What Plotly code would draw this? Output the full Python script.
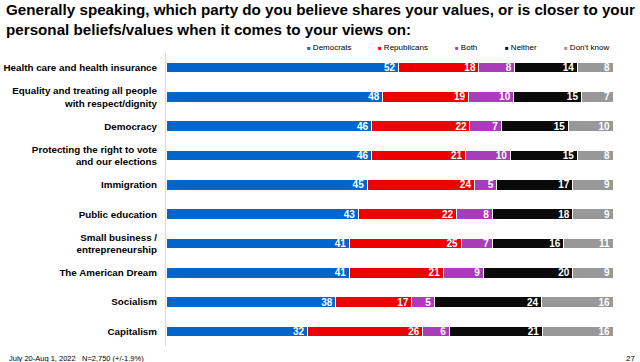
import plotly.graph_objects as go

categories = [
    "Health care and health insurance",
    "Equality and treating all people<br>with respect/dignity",
    "Democracy",
    "Protecting the right to vote<br>and our elections",
    "Immigration",
    "Public education",
    "Small business /<br>entrepreneurship",
    "The American Dream",
    "Socialism",
    "Capitalism",
]
democrats = [52, 48, 46, 46, 45, 43, 41, 41, 38, 32]
republicans = [18, 19, 22, 21, 24, 22, 25, 21, 17, 26]
both = [8, 10, 7, 10, 5, 8, 7, 9, 5, 6]
neither = [14, 15, 15, 15, 17, 18, 16, 20, 24, 21]
dont_know = [8, 7, 10, 8, 9, 9, 11, 9, 16, 16]

series_names = ["Democrats", "Republicans", "Both", "Neither", "Don't know"]
series_values = [democrats, republicans, both, neither, dont_know]
series_colors = ["#0066CC", "#EE0000", "#A93CB9", "#0A0A0A", "#989898"]
# left edge (px) of each legend entry's text
legend_text_x = [312, 383, 460, 510, 569]

FONT = "Liberation Sans, Arial, sans-serif"
L, R, T, B = 166, 27, 53, 16
PW = 640 - L - R
PH = 362 - T - B

fig = go.Figure()
legend_layouts = {}
for i, (name, vals, color) in enumerate(zip(series_names, series_values, series_colors)):
    fig.add_trace(go.Bar(
        y=categories, x=vals, name=name, orientation="h",
        marker=dict(color=color, line=dict(color="white", width=1)),
        text=[str(v) for v in vals], texttemplate="%{text}", textposition="inside",
        insidetextanchor="end", constraintext="none", textangle=0,
        textfont=dict(color="white", size=10, family=FONT, weight="bold"),
        showlegend=False, hoverinfo="y+name+text",
    ))
    lname = "legend" if i == 0 else f"legend{i + 1}"
    fig.add_trace(go.Scatter(
        x=[None], y=[None], mode="markers",
        name=f"<span style='font-size:6px;color:{color}'>■</span> {name}",
        marker=dict(symbol="square", size=1, color="rgba(0,0,0,0)"),
        showlegend=True, legend=lname,
    ))
    legend_layouts[lname] = dict(
        orientation="h", x=(legend_text_x[i] - 5 - 40 - L) / PW, xanchor="left",
        y=1 + (T - 47) / PH, yanchor="middle",
        font=dict(size=8, family=FONT, color="#000000"), itemwidth=30,
        bgcolor="rgba(0,0,0,0)", borderwidth=0,
    )

fig.update_layout(
    width=640, height=362,
    margin=dict(l=L, r=R, t=T, b=B, autoexpand=False),
    barmode="stack", barnorm="percent", bargap=0.64,
    paper_bgcolor="white", plot_bgcolor="white",
    font=dict(family=FONT, color="#000000"),
    title=dict(
        text="Generally speaking, which party do you believe shares your values, or is closer to your<br>personal beliefs/values when it comes to your views on:",
        x=6 / 640, xanchor="left", xref="container",
        y=1 - 15 / 362, yanchor="top", yref="container",
        font=dict(size=15.2, family=FONT, color="#000000", weight="bold"),
    ),
    xaxis=dict(range=[0, 100], visible=False, fixedrange=True),
    yaxis=dict(
        autorange="reversed", showgrid=False, zeroline=False,
        showline=True, linecolor="#D9D9D9", linewidth=1, automargin=False,
        ticks="", ticklabelstandoff=6,
        tickfont=dict(size=9.8, family=FONT, color="#000000", weight="bold"),
    ),
    annotations=[
        dict(text="July 20-Aug 1, 2022\u00a0\u00a0\u00a0N=2,750 (+/-1.9%)",
             xref="paper", yref="paper", x=(7 - L) / PW, y=-0.02,
             xanchor="left", yanchor="top", showarrow=False,
             font=dict(size=7.5, family=FONT, color="#000000")),
        dict(text="27", xref="paper", yref="paper", x=(630 - L) / PW, y=-0.02,
             xanchor="center", yanchor="top", showarrow=False,
             font=dict(size=8, family=FONT, color="#000000")),
    ],
    **legend_layouts,
)

fig.write_html("out.html", config={"displayModeBar": False},
               post_script="document.body.style.margin='0';")
